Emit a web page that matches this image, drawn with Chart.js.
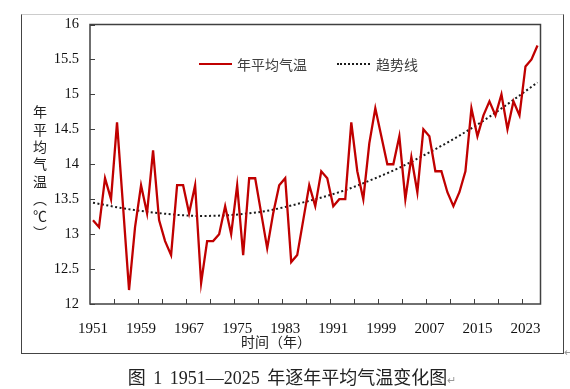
<!DOCTYPE html>
<html>
<head>
<meta charset="utf-8">
<script src="https://cdn.jsdelivr.net/npm/chart.js@4.4.1/dist/chart.umd.min.js"></script>
<style>
    body { margin: 0; background: #fff; }
    #wrap { position: relative; width: 570px; height: 389px; overflow: hidden; }
    #myChart { position: absolute; left: 0; top: 0; }
    .frame { position: absolute; left: 21px; top: 14px; width: 541px; height: 338px; border: 1px solid #444; border-top-color: #ccc; }
    .txt { position: absolute; font-family: 'Noto Sans CJK SC', sans-serif; color: #404040; font-size: 14px; line-height: 14px; white-space: nowrap; }
    .swatch { position: absolute; height: 0; }
    #ytitle { left: 33px; top: 105px; writing-mode: vertical-rl; letter-spacing: 3.3px; color: #222; }
    #caption { left: 0; width: 584px; text-align: center; top: 368px; font-size: 18px; line-height: 20px; color: #222; word-spacing: 3px; font-family: 'Liberation Serif', 'Noto Sans CJK SC', serif; }
    .mark { color: #999; font-size: 11px; }
</style>
</head>
<body>
<div id="wrap">
    <div class="frame"></div>
    <canvas id="myChart" width="570" height="389"></canvas>
    <!-- legend -->
    <div class="swatch" style="left:199px;top:63px;width:33px;border-top:2.3px solid #C00000;"></div>
    <div class="txt" style="left:237px;top:57px;">年平均气温</div>
    <div class="swatch" style="left:337px;top:63px;width:33px;border-top:2px dotted #1a1a1a;"></div>
    <div class="txt" style="left:376px;top:57px;">趋势线</div>
    <!-- axis titles -->
    <div class="txt" id="ytitle">年平均气温（℃）</div>
    <div class="txt" style="left:241px;top:334px;color:#222;">时间（年）</div>
    <div class="txt mark" style="left:564px;top:344px;">↵</div>
    <div class="txt" id="caption">图 1 1951—2025 年逐年平均气温变化图<span class="mark">↵</span></div>
</div>
<script>
// years on the x axis
const years = [
    '1951', '1952', '1953', '1954', '1955', '1956', '1957', '1958', '1959', '1960',
    '1961', '1962', '1963', '1964', '1965', '1966', '1967', '1968', '1969', '1970',
    '1971', '1972', '1973', '1974', '1975', '1976', '1977', '1978', '1979', '1980',
    '1981', '1982', '1983', '1984', '1985', '1986', '1987', '1988', '1989', '1990',
    '1991', '1992', '1993', '1994', '1995', '1996', '1997', '1998', '1999', '2000',
    '2001', '2002', '2003', '2004', '2005', '2006', '2007', '2008', '2009', '2010',
    '2011', '2012', '2013', '2014', '2015', '2016', '2017', '2018', '2019', '2020',
    '2021', '2022', '2023', '2024', '2025'
];

// yearly mean temperature
const meanTemp = [
    13.2, 13.1, 13.8, 13.5, 14.6, 13.4, 12.2, 13.1, 13.7, 13.3,
    14.2, 13.2, 12.9, 12.7, 13.7, 13.7, 13.3, 13.7, 12.3, 12.9,
    12.9, 13.0, 13.4, 13.0, 13.7, 12.7, 13.8, 13.8, 13.3, 12.8,
    13.3, 13.7, 13.8, 12.6, 12.7, 13.2, 13.7, 13.4, 13.9, 13.8,
    13.4, 13.5, 13.5, 14.6, 13.9, 13.5, 14.3, 14.8, 14.4, 14.0,
    14.0, 14.4, 13.5, 14.1, 13.6, 14.5, 14.4, 13.9, 13.9, 13.6,
    13.4, 13.6, 13.9, 14.8, 14.4, 14.7, 14.9, 14.7, 15.0, 14.5,
    14.9, 14.7, 15.4, 15.5, 15.7
];

// trend line, read at a few years
const trendYears = ['1951', '1956', '1961', '1969', '1979', '1988', '1993', '1998', '2002', '2007', '2012', '2017', '2025'];
const trendValues = [13.45, 13.37, 13.31, 13.26, 13.32, 13.50, 13.63, 13.80, 13.95, 14.17, 14.41, 14.68, 15.17];

// tick labels
const xTickLabels = ['1951', '1959', '1967', '1975', '1983', '1991', '1999', '2007', '2015', '2023'];
const yTicks = [12, 12.5, 13, 13.5, 14, 14.5, 15, 15.5, 16];

// plot border + inside tick marks (like excel)
const frameTicks = {
    id: 'frameTicks',
    beforeDatasetsDraw(chart) {
        const { ctx, chartArea: a, scales: { x, y } } = chart;
        ctx.save();
        ctx.strokeStyle = '#404040';
        ctx.lineWidth = 1.5;
        ctx.strokeRect(a.left, a.top, a.right - a.left, a.bottom - a.top);
        ctx.lineWidth = 1;
        ctx.beginPath();
        yTicks.forEach(v => {
            const py = Math.round(y.getPixelForValue(v)) + 0.5;
            ctx.moveTo(a.left, py);
            ctx.lineTo(a.left + 5, py);
        });
        const half = (x.getPixelForValue(1) - x.getPixelForValue(0)) / 2;
        years.forEach((yr, i) => {
            if (i > 0 && i % 4 === 0) {
                const px = Math.round(x.getPixelForValue(i) - half) + 0.5;
                ctx.moveTo(px, a.bottom);
                ctx.lineTo(px, a.bottom - 5);
            }
        });
        ctx.stroke();
        ctx.restore();
    }
};

const config = {
    type: 'line',
    data: {
        labels: years,
        datasets: [{
            label: '年平均气温',
            data: meanTemp,
            borderColor: '#C00000',
            borderWidth: 2.3,
            pointRadius: 0,
            tension: 0,
            fill: false
        },
        {
            label: '趋势线',
            data: trendYears.map((yr, i) => ({ x: yr, y: trendValues[i] })),
            borderColor: '#1a1a1a',
            borderWidth: 2,
            borderDash: [2, 2.5],
            pointRadius: 0,
            cubicInterpolationMode: 'monotone',
            spanGaps: true,
            fill: false
        }]
    },
    options: {
        responsive: false,
        animation: false,
        devicePixelRatio: 1,
        layout: { padding: { left: 20, right: 29.5, top: 24.5, bottom: 55 } },
        plugins: {
            legend: { display: false },
            tooltip: { enabled: false }
        },
        scales: {
            x: {
                offset: true,
                grid: { display: false },
                border: { display: false },
                ticks: {
                    autoSkip: false,
                    maxRotation: 0,
                    minRotation: 0,
                    padding: 8,
                    color: '#111',
                    font: { family: "'Liberation Serif', serif", size: 15 },
                    callback: function (val, i) {
                        const lab = years[i];
                        return xTickLabels.includes(lab) ? lab : '';
                    }
                },
                afterFit: scale => { scale.height = 30; }
            },
            y: {
                min: 12,
                max: 16,
                grid: { display: false },
                border: { display: false },
                afterBuildTicks: scale => { scale.ticks = yTicks.map(v => ({ value: v })); },
                ticks: {
                    padding: 3,
                    color: '#111',
                    font: { family: "'Liberation Serif', serif", size: 14.5 },
                    callback: v => String(v)
                },
                afterFit: scale => { scale.width = 70; }
            }
        }
    },
    plugins: [frameTicks]
};

const canvas = document.getElementById('myChart');
window.myChart = new Chart(canvas, config);
</script>
</body>
</html>
